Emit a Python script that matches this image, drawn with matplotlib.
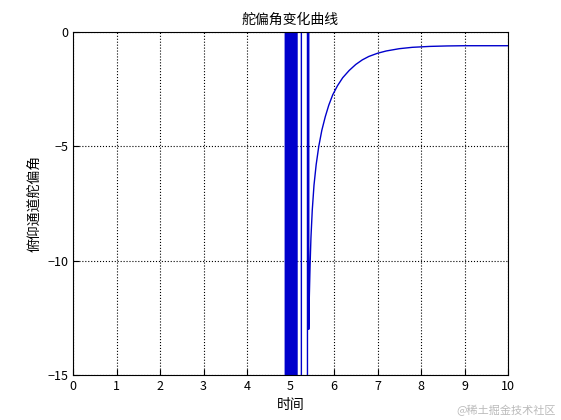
import matplotlib
matplotlib.use("Agg")
import matplotlib.pyplot as plt

plt.rcParams['font.family'] = ['Noto Sans CJK SC', 'DejaVu Sans']

# oscillating segment (values beyond axes range, clipped)
osc_t = [4.88, 4.88, 4.90, 4.90, 4.92, 4.92, 4.94, 4.94, 4.96, 4.96, 4.98, 4.98,
         5.00, 5.00, 5.02, 5.02, 5.04, 5.04, 5.06, 5.06, 5.09, 5.09, 5.12, 5.12,
         5.15, 5.15, 5.25, 5.25, 5.39, 5.39, 5.42, 5.42]
osc_y = [-40, 40, 40, -40, -40, 40, 40, -40, -40, 40, 40, -40,
         -40, 40, 40, -40, -40, 40, 40, -40, -40, 40, 40, -40,
         -40, 40, 40, -40, -40, 40, 40, -13.0]
# recovery curve
cur_t = [5.42, 5.43, 5.45, 5.47, 5.50, 5.54, 5.59, 5.65, 5.72, 5.80, 5.88, 5.97, 6.08,
         6.2, 6.35, 6.5, 6.65, 6.8, 7.0, 7.2, 7.5, 7.8, 8.2, 8.6, 9.0, 9.5, 10.0]
cur_y = [-13.0, -11.8, -10.2, -9.0, -7.8, -6.7, -5.8, -5.0, -4.3, -3.7, -3.2, -2.75, -2.35,
         -2.0, -1.68, -1.42, -1.22, -1.07, -0.93, -0.83, -0.73, -0.67, -0.63, -0.61, -0.6, -0.6, -0.6]

fig = plt.figure(figsize=(5.61, 4.2), dpi=100)
ax = fig.add_axes([73/561, 1-375/420, 435/561, 343/420])
ax.plot(osc_t + cur_t, osc_y + cur_y, color='#0000cc', lw=1)
ax.set_xlim(0, 10)
ax.set_ylim(-15, 0)
ax.set_xticks(range(0, 11))
ax.set_yticks([-15, -10, -5, 0])
ax.grid(True, linestyle=':', color='k', lw=0.8)
ax.tick_params(direction='in', labelsize=9, length=4)
ax.set_title('舵偏角变化曲线', fontsize=10)
ax.set_xlabel('时间', fontsize=10)
ax.set_ylabel('俯仰通道舵偏角', fontsize=10)
for s in ax.spines.values():
    s.set_linewidth(0.8)
fig.text(0.99, 0.01, '@稀土掘金技术社区', ha='right', va='bottom', fontsize=8, color='#bbbbbb')
fig.savefig('out.png', dpi=100)
